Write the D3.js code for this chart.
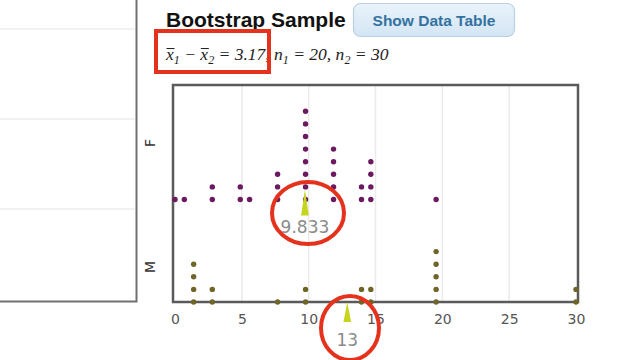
<!DOCTYPE html>
<html><head><meta charset="utf-8">
<script src="https://cdn.jsdelivr.net/npm/d3@7"></script>
<style>body{margin:0;background:#fff}svg{display:block}</style>
</head><body>
<svg id="c" width="640" height="360"></svg>
<script>
// ---- data ----
const groups = ["F", "M"];
const fValues = [0,1,3,3,5,5,6,8,8,8,10,10,10,10,10,10,10,10,12,12,12,12,12,14,14,15,15,15,15,20];
const mValues = [2,2,2,2,3,3,8,10,10,14,14,15,15,20,20,20,20,20,30,30];
const groupMeans = {F: 9.833, M: 13};
const meanLabels = {F: "9.833", M: "13"};
const xTicks = [0,5,10,15,20,25,30];
const title = "Bootstrap Sample";
const buttonText = "Show Data Table";
const diffStat = "3.17", n1 = 20, n2 = 30;

const svg = d3.select("#c");
const plot = {l:173, r:578, t:85, b:302};
const x = d3.scaleLinear().domain([0,30]).range([175, 576]);
const yBand = d3.scaleBand().domain(groups).range([97, 302]);
const yLabel = d3.scalePoint().domain(groups).range([143, 267]);
const binW = 30/43;        // dot-plot bin width
const dotStep = 12.6, dotR = 2.7;
const colors = {F:"#6b1a5f", M:"#6e6526"};

// left panel
svg.append("rect").attr("x",-2).attr("y",-2).attr("width",138.5).attr("height",303.5)
  .attr("fill","#fff").attr("stroke","#707070").attr("stroke-width",2);
[29,119,209].forEach(yy=>svg.append("line").attr("x1",0).attr("x2",135).attr("y1",yy).attr("y2",yy)
  .attr("stroke","#ececec").attr("stroke-width",1.5));

// title
svg.append("text").attr("x",166).attr("y",27).text(title)
  .attr("font-family","Liberation Sans, Arial, sans-serif").attr("font-weight","bold")
  .attr("font-size",21).attr("fill","#111");

// button
const grad = svg.append("defs").append("linearGradient").attr("id","bg").attr("x1",0).attr("x2",0).attr("y1",0).attr("y2",1);
grad.append("stop").attr("offset","0").attr("stop-color","#eaf3fb");
grad.append("stop").attr("offset","1").attr("stop-color","#d3e5f4");
svg.append("rect").attr("x",353.5).attr("y",3.5).attr("width",161).attr("height",33).attr("rx",7)
  .attr("fill","url(#bg)").attr("stroke","#b9d0e4").attr("stroke-width",1.2);
svg.append("text").attr("x",434).attr("y",26).attr("text-anchor","middle").text(buttonText)
  .attr("font-family","Liberation Sans, Arial, sans-serif").attr("font-weight","bold")
  .attr("font-size",15.5).attr("fill","#33729f");

// formula
const fy = 60;
const f = svg.append("text").attr("x",166).attr("y",fy)
  .attr("font-family","Liberation Serif, Times New Roman, serif").attr("font-style","italic")
  .attr("font-size",17.5).attr("fill","#222");
const xa = f.append("tspan").text("x");
f.append("tspan").attr("dy",4).attr("font-size",12).text("1");
f.append("tspan").attr("dy",-4).text(" \u2212 ");
const xb = f.append("tspan").text("x");
f.append("tspan").attr("dy",4).attr("font-size",12).text("2");
f.append("tspan").attr("dy",-4).text(" = " + diffStat + ", n");
f.append("tspan").attr("dy",4).attr("font-size",12).text("1");
f.append("tspan").attr("dy",-4).text(" = " + n1 + ", n");
f.append("tspan").attr("dy",4).attr("font-size",12).text("2");
f.append("tspan").attr("dy",-4).text(" = " + n2);
[xa, xb].forEach(t=>{
  const bb = t.node().getBBox();
  svg.append("line").attr("x1",bb.x+1.5).attr("x2",bb.x+bb.width+0.5)
    .attr("y1",fy-11.5).attr("y2",fy-11.5).attr("stroke","#222").attr("stroke-width",1);
});

// gridlines
svg.append("g").selectAll("line").data(xTicks.slice(1,-1)).join("line")
  .attr("x1",d=>x(d)).attr("x2",d=>x(d)).attr("y1",plot.t).attr("y2",plot.b)
  .attr("stroke","#ebebeb").attr("stroke-width",1.5);

// plot frame
svg.append("rect").attr("x",plot.l).attr("y",plot.t).attr("width",plot.r-plot.l).attr("height",plot.b-plot.t)
  .attr("fill","none").attr("stroke","#5a5a5a").attr("stroke-width",2.5);

// x axis labels
const xAxis = d3.axisBottom(x).tickValues(xTicks).tickSize(0).tickPadding(0);
const gx = svg.append("g").attr("transform",`translate(0,${plot.b+12})`).call(xAxis);
gx.select(".domain").remove();
gx.selectAll("text").attr("font-family","DejaVu Sans, sans-serif").attr("font-size",14)
  .attr("fill","#555").attr("dy","0.7em");

// group labels
svg.append("g").selectAll("text").data(groups).join("text")
  .attr("transform",d=>`translate(155,${yLabel(d)}) rotate(-90)`)
  .attr("text-anchor","middle").text(d=>d)
  .attr("font-family","DejaVu Sans, sans-serif").attr("font-size",14).attr("fill","#333");

// dots
function stack(vals, g){
  const counts = {};
  return vals.map(v=>{
    const b = Math.floor(v/binW + 1e-9);
    counts[b] = (counts[b]||0);
    const k = counts[b]++;
    return {g, v, pos: b*binW, k};
  });
}
const dots = stack(fValues,"F").concat(stack(mValues,"M"));
svg.append("g").selectAll("circle").data(dots).join("circle")
  .attr("cx",d=>x(d.pos))
  .attr("cy",d=>yBand(d.g)+yBand.bandwidth()-d.k*dotStep)
  .attr("r",dotR).attr("fill",d=>colors[d.g]);

// mean markers
const markerSpec = {F:{tip:-10, h:26, lab:28}, M:{tip:0, h:20, lab:38}};
groups.forEach(g=>{
  const base = yBand(g)+yBand.bandwidth();
  const cx = x(groupMeans[g]) - 1.5;
  const s = markerSpec[g];
  const ty = base + s.tip;
  svg.append("path").attr("d",`M${cx},${ty} L${cx-3.8},${ty+s.h} L${cx+3.8},${ty+s.h} Z`)
    .attr("fill","#c6d41c");
  svg.append("text").attr("x",cx).attr("y",base+s.lab).attr("dy","0.35em")
    .attr("text-anchor","middle").text(meanLabels[g])
    .attr("font-family","DejaVu Sans, sans-serif").attr("font-size",17).attr("fill","#8a8a8a");
});

// red annotations
const red = "#e5321d";
svg.append("rect").attr("x",156).attr("y",31).attr("width",113).attr("height",41)
  .attr("fill","none").attr("stroke",red).attr("stroke-width",4);
svg.append("ellipse").attr("cx",308).attr("cy",213).attr("rx",36).attr("ry",31)
  .attr("fill","none").attr("stroke",red).attr("stroke-width",4);
svg.append("ellipse").attr("cx",350).attr("cy",328).attr("rx",29).attr("ry",32)
  .attr("fill","none").attr("stroke",red).attr("stroke-width",4);
</script>
</body></html>
